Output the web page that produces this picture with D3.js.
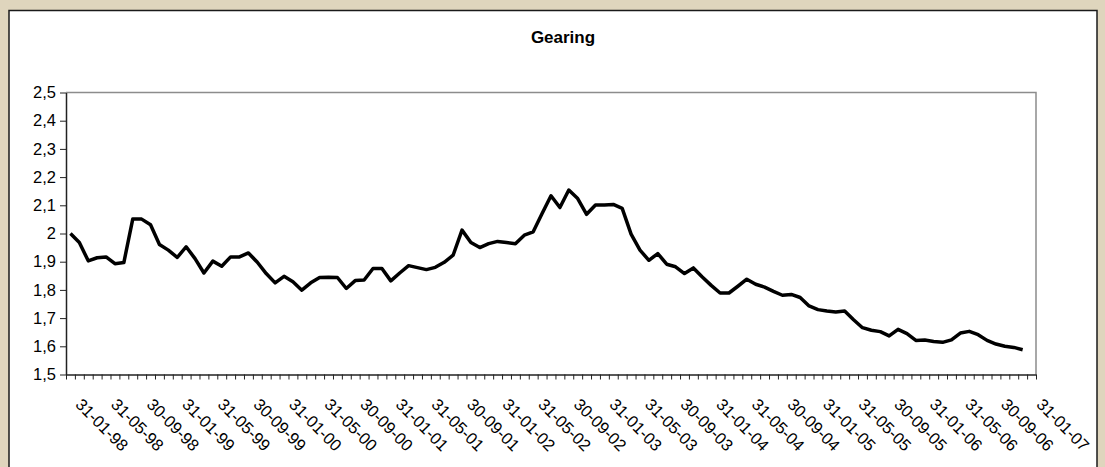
<!DOCTYPE html>
<html>
<head>
<meta charset="utf-8">
<script src="https://cdn.jsdelivr.net/npm/d3@7"></script>
<style>
  html, body { margin: 0; padding: 0; background: #dfd5bd; }
  svg { display: block; }
  text { font-family: "Liberation Sans", Arial, sans-serif; fill: #000; }
</style>
</head>
<body>
<svg id="chart" width="1105" height="467"></svg>
<script>
// Monthly gearing ratio, end of month, Jan 1998 – Dec 2006
const gearing = [
  2.000, 1.968, 1.903, 1.914, 1.917, 1.893, 1.897, 2.051, 2.051, 2.031,
  1.961, 1.941, 1.915, 1.953, 1.911, 1.860, 1.902, 1.884, 1.917, 1.917,
  1.931, 1.898, 1.858, 1.825, 1.848, 1.829, 1.799, 1.825, 1.844, 1.845,
  1.844, 1.805, 1.833, 1.835, 1.876, 1.876, 1.832, 1.860, 1.886, 1.879,
  1.872, 1.880, 1.898, 1.923, 2.012, 1.968, 1.950, 1.964, 1.972, 1.968,
  1.964, 1.994, 2.006, 2.071, 2.134, 2.092, 2.154, 2.124, 2.068, 2.101,
  2.101, 2.103, 2.089, 1.998, 1.941, 1.905, 1.929, 1.891, 1.882, 1.858,
  1.878, 1.846, 1.816, 1.789, 1.789, 1.813, 1.838, 1.820, 1.810, 1.795,
  1.781, 1.784, 1.773, 1.743, 1.730, 1.725, 1.722, 1.725, 1.694, 1.666,
  1.657, 1.652, 1.637, 1.660, 1.645, 1.621, 1.622, 1.617, 1.614, 1.623,
  1.647, 1.653, 1.641, 1.621, 1.608, 1.600, 1.596, 1.588
];

// Category labels, one every fourth month
const xTickLabels = [
  "31-01-98", "31-05-98", "30-09-98", "31-01-99", "31-05-99", "30-09-99",
  "31-01-00", "31-05-00", "30-09-00", "31-01-01", "31-05-01", "30-09-01",
  "31-01-02", "31-05-02", "30-09-02", "31-01-03", "31-05-03", "30-09-03",
  "31-01-04", "31-05-04", "30-09-04", "31-01-05", "31-05-05", "30-09-05",
  "31-01-06", "31-05-06", "30-09-06", "31-01-07"
];
const labelStep = 4;

const yTicks = [1.5, 1.6, 1.7, 1.8, 1.9, 2.0, 2.1, 2.2, 2.3, 2.4, 2.5];

const svg = d3.select("#chart");
const plot = { left: 66, right: 1036, top: 92.5, bottom: 374.5 };

// Chart area
svg.append("rect")
  .attr("x", 9).attr("y", 10.5)
  .attr("width", 1088).attr("height", 470)
  .attr("fill", "#fff")
  .attr("stroke", "#1a1a1a").attr("stroke-width", 1.5);

// Title
svg.append("text")
  .attr("x", 563).attr("y", 43)
  .attr("text-anchor", "middle")
  .attr("font-size", 17).attr("font-weight", "bold")
  .text("Gearing");

const nCat = (xTickLabels.length - 1) * labelStep + 1;
const x = d3.scaleLinear().domain([0, nCat]).range([plot.left, plot.right]);
const y = d3.scaleLinear().domain([1.5, 2.5]).range([plot.bottom, plot.top]);

// Plot frame (top and right edges)
svg.append("path")
  .attr("d", `M${plot.left},${plot.top}H${plot.right}V${plot.bottom}`)
  .attr("fill", "none").attr("stroke", "#8c8c8c").attr("stroke-width", 1.5);

// Y axis
const fmt = d3.formatLocale({ decimal: ",", thousands: ".", grouping: [3], currency: ["", ""] }).format(".1~f");
const yAxis = svg.append("g")
  .attr("transform", `translate(${plot.left},0)`)
  .call(d3.axisLeft(y).tickValues(yTicks).tickFormat(fmt).tickSize(6).tickSizeOuter(0).tickPadding(4));
yAxis.selectAll("text").attr("font-size", 16.5).style("font-family", '"Liberation Sans", Arial, sans-serif');
yAxis.select(".domain").attr("stroke", "#222").attr("stroke-width", 1.5);
yAxis.selectAll(".tick line").attr("stroke", "#222");

// X axis: a tick at every month boundary
const xAxis = svg.append("g")
  .attr("transform", `translate(0,${plot.bottom})`)
  .call(d3.axisBottom(x).tickValues(d3.range(nCat + 1)).tickFormat("").tickSize(5).tickSizeOuter(0));
xAxis.select(".domain").attr("stroke", "#222").attr("stroke-width", 1.5);
xAxis.selectAll(".tick line").attr("stroke", "#222");

// Rotated category labels
const labelIdx = d3.range(xTickLabels.length).map(k => k * labelStep);
svg.append("g")
  .selectAll("text")
  .data(labelIdx)
  .join("text")
  .attr("transform", d => `translate(${x(d + 0.5) + 4},${plot.bottom + 31}) rotate(45)`)
  .attr("font-size", 16.5)
  .attr("text-anchor", "start")
  .text((d, k) => xTickLabels[k]);

// Series line
const line = d3.line()
  .x((d, i) => x(i + 0.5))
  .y(d => y(d));
svg.append("path")
  .datum(gearing)
  .attr("d", line)
  .attr("fill", "none")
  .attr("stroke", "#000")
  .attr("stroke-width", 3.5)
  .attr("stroke-linejoin", "round");
</script>
</body>
</html>
